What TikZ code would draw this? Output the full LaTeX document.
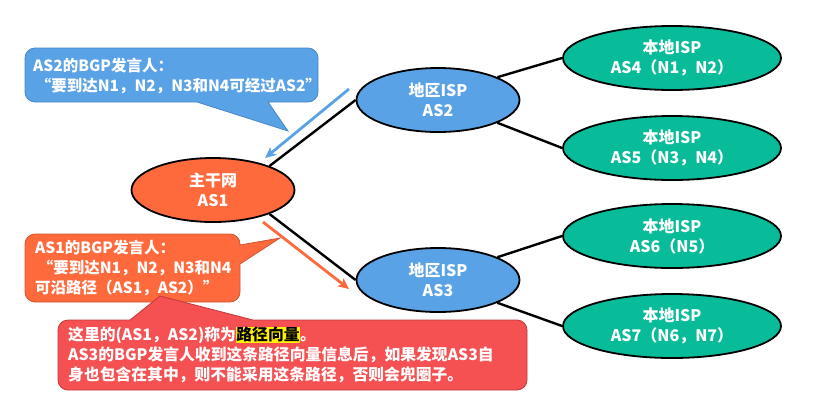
\documentclass[tikz,border=0pt]{standalone}
\usepackage{fontspec}
\setmainfont{Noto Sans CJK SC}
\usetikzlibrary{arrows.meta,shapes.geometric,backgrounds}
\definecolor{asorange}{HTML}{FF6A3D}
\definecolor{asblue}{HTML}{5AA2E6}
\definecolor{asgreen}{HTML}{08BC9A}
\definecolor{blueborder}{HTML}{4A86C5}
\definecolor{orangeborder}{HTML}{CF5436}
\definecolor{calred}{HTML}{F55052}
\definecolor{redborder}{HTML}{C0393B}
\begin{document}
\begin{tikzpicture}[x=1pt,y=1pt,
  ell/.style={ellipse, draw=black, line width=1.8pt, inner sep=0pt, text=white,
    font=\bfseries\fontsize{16}{20}\selectfont, align=center},
  core/.style={ell, fill=asorange, minimum width=163pt, minimum height=64pt},
  region/.style={ell, fill=asblue, minimum width=163pt, minimum height=64pt},
  local/.style={ell, fill=asgreen, minimum width=218pt, minimum height=64pt},
  conn/.style={line width=2.4pt, black},
  flow/.style={line width=2.8pt, -{Stealth[length=11pt,width=10pt,inset=3pt]}},
  ctext/.style={text=white, font=\bfseries\fontsize{15.5}{19.8}\selectfont, align=left, inner sep=0pt, anchor=west},
  cbox/.style={line width=0.8pt}
]
\useasboundingbox (0,0) rectangle (822,-416);

% nodes
\node[core]   (as1) at (213,-190) {主干网\\AS1};
\node[region] (as2) at (438,-100) {地区ISP\\AS2};
\node[region] (as3) at (438,-280) {地区ISP\\AS3};
\node[local]  (as4) at (672,-58)  {本地ISP\\AS4（N1，N2）};
\node[local]  (as5) at (672,-148) {本地ISP\\AS5（N3，N4）};
\node[local]  (as6) at (672,-236) {本地ISP\\AS6（N5）};
\node[local]  (as7) at (672,-326) {本地ISP\\AS7（N6，N7）};

% connectors (behind the ellipses)
\begin{scope}[on background layer]
\draw[conn] (as1.23) -- (as2.west);
\draw[conn] (as1.-23) -- (as3.west);
\draw[conn] (as2.21) -- (as4.west);
\draw[conn] (as2.-21) -- (as5.west);
\draw[conn] (as3.21) -- (as6.west);
\draw[conn] (as3.-21) -- (as7.west);
\end{scope}

% advertisement arrows
\coordinate (bs) at (349,-89);
\coordinate (be) at (265,-158);
\coordinate (os) at (263,-222);
\coordinate (oe) at (349,-289);
\draw[flow, asblue] (bs) -- (be);
\draw[flow, asorange] (os) -- (oe);

% blue callout
\draw[cbox, fill=asblue, draw=blueborder]
  (35,-48) -- (308,-48) arc[start angle=90,end angle=0,radius=10]
  -- (318,-92) arc[start angle=0,end angle=-90,radius=10]
  -- (268,-102) -- (288,-131) -- (197,-102)
  -- (35,-102) arc[start angle=270,end angle=180,radius=10]
  -- (25,-58) arc[start angle=180,end angle=90,radius=10] -- cycle;
\node[ctext] (t2) at (33,-76) {AS2的BGP发言人：\\\,“要到达N1，N2，N3和N4可经过AS2”};

% orange callout
\draw[cbox, fill=asorange, draw=orangeborder]
  (35,-234) -- (230,-234) arc[start angle=90,end angle=0,radius=10]
  -- (240,-245) -- (280,-238) -- (240,-264)
  -- (240,-292) arc[start angle=0,end angle=-90,radius=10]
  -- (35,-302) arc[start angle=270,end angle=180,radius=10]
  -- (25,-244) arc[start angle=180,end angle=90,radius=10] -- cycle;
\node[ctext] (t1) at (35,-268) {AS1的BGP发言人：\\\,“要到达N1，N2，N3和N4\\可沿路径（AS1，AS2）”};

% red callout
\draw[cbox, fill=calred, draw=redborder]
  (68,-320) -- (130,-320) -- (160,-296) -- (253,-320)
  -- (517,-320) arc[start angle=90,end angle=0,radius=10]
  -- (527,-380) arc[start angle=0,end angle=-90,radius=10]
  -- (68,-390) arc[start angle=270,end angle=180,radius=10]
  -- (58,-330) arc[start angle=180,end angle=90,radius=10] -- cycle;
\node[ctext, font=\bfseries\fontsize{15.8}{20}\selectfont] (t3) at (68,-355) {这里的(AS1，AS2)称为{\setlength{\fboxsep}{0.5pt}\colorbox{yellow}{\color{black}路径向量}}。\\AS3的BGP发言人收到这条路径向量信息后，如果发现AS3自\\身也包含在其中，则不能采用这条路径，否则会兜圈子。};
\end{tikzpicture}
\end{document}
